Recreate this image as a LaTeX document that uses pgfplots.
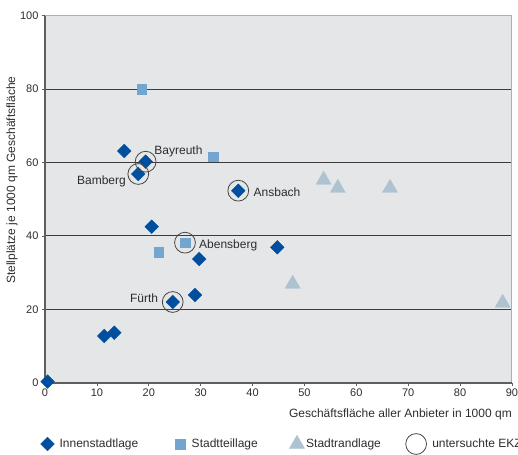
\documentclass[border=0pt]{standalone}
\usepackage{pgfplots}
\pgfplotsset{compat=1.18}
\usepackage{fontspec}
\setmainfont{Liberation Sans}
\definecolor{bgc}{RGB}{229,230,232}
\definecolor{innen}{RGB}{0,79,159}
\definecolor{teil}{RGB}{115,165,209}
\definecolor{rand}{RGB}{174,195,209}
\definecolor{txt}{RGB}{45,45,45}
\definecolor{gridc}{RGB}{60,60,60}
\definecolor{axc}{RGB}{95,95,95}
\definecolor{framec}{RGB}{175,175,175}
\definecolor{circc}{RGB}{70,70,70}
\pgfdeclareplotmark{rdiamond}{%
  \pgfpathmoveto{\pgfqpoint{0pt}{\pgfplotmarksize}}%
  \pgfpathlineto{\pgfqpoint{\pgfplotmarksize}{0pt}}%
  \pgfpathlineto{\pgfqpoint{0pt}{-\pgfplotmarksize}}%
  \pgfpathlineto{\pgfqpoint{-\pgfplotmarksize}{0pt}}%
  \pgfpathclose\pgfusepathqfillstroke}
\pgfplotsset{
  limg/.style 2 args={legend image code/.code={\draw[white,opacity=0,thin] (-#1,-11pt) -- (-#1,11pt) (#2,-11pt) -- (#2,11pt); \draw[##1] plot coordinates {(0pt,0pt)};}},
}
\begin{document}
\begin{tikzpicture}
\useasboundingbox (-45pt,-71.3pt) rectangle (473pt,382.7pt);
\begin{axis}[
  at={(0,0)}, anchor=south west,
  scale only axis, width=467pt, height=367pt,
  xmin=0, xmax=90, ymin=0, ymax=100,
  xtick={0,10,...,90}, ytick={0,20,...,100},
  clip=false,
  axis background/.style={fill=bgc},
  axis line style={draw=none},
  ymajorgrids, grid style={gridc, line width=0.9pt},
  tick align=outside, xtick pos=bottom, ytick pos=left,
  major tick length=3pt,
  tick style={axc, line width=0.6pt},
  ticklabel style={font=\fontsize{11}{12}\selectfont, text=txt},
  /pgf/number format/assume math mode=true,
  xlabel={Geschäftsfläche aller Anbieter in 1000 qm},
  xlabel style={at={(axis description cs:1,0)}, anchor=base east, inner sep=0pt, yshift=-34.3pt, font=\fontsize{12}{14}\selectfont, text=txt},
  ylabel={Stellplätze je 1000 qm Geschäftsfläche},
  ylabel style={at={(axis description cs:-0.0707,0.552)}, anchor=center, inner sep=0pt, font=\fontsize{12}{14}\selectfont, text=txt},
  legend columns=4,
  legend style={at={(axis description cs:-0.0171,-0.167)}, anchor=west, draw=none, fill=none,
    font=\fontsize{12}{14}\selectfont, text=txt, nodes={inner sep=0pt}},
]
\draw[framec, line width=1pt] (rel axis cs:0,1) -- (rel axis cs:1,1) -- (rel axis cs:1,0);
\draw[axc, line width=1.6pt] (rel axis cs:0,1) -- (rel axis cs:0,0) -- (rel axis cs:1,0);

\addplot[only marks, mark=rdiamond, mark size=6.9pt, mark options={fill=innen, draw=innen, line width=0.3pt}, limg={7pt}{12pt}]
  coordinates {(0.5,0.3) (11.43,12.72) (13.36,13.62) (20.56,42.51) (29.74,33.71) (28.91,23.90)
   (24.61,21.99) (15.28,63.13) (19.40,60.22) (17.98,56.87) (37.25,52.32) (44.77,36.89)};
\addlegendentry{Innenstadtlage}
\addplot[only marks, mark=square*, mark size=4.9pt, mark options={fill=teil, draw=teil, line width=0.3pt}, limg={42pt}{11pt}]
  coordinates {(18.64,79.95) (32.43,61.58) (21.91,35.61) (26.98,38.15)};
\addlegendentry{Stadtteillage}
\addplot[only marks, mark=triangle*, mark size=8.8pt, mark options={fill=rand, draw=rand, line width=0.3pt}, limg={39pt}{9pt}]
  coordinates {(53.70,55.26) (56.43,53.05) (66.49,53.05) (47.73,26.92) (88.20,21.74)};
\addlegendentry{Stadtrandlage}
\addplot[only marks, mark=o, mark size=10.4pt, mark options={draw=circc, line width=0.8pt, fill=none}, limg={35pt}{16pt}]
  coordinates {(19.40,60.22) (17.98,56.87) (37.25,52.32) (26.98,38.15) (24.61,21.99)};
\addlegendentry{untersuchte EKZ}

\node[anchor=base west, inner sep=0pt, font=\fontsize{12}{14}\selectfont, text=txt] at (axis cs:21.06,62.3) {Bayreuth};
\node[anchor=base east, inner sep=0pt, font=\fontsize{12}{14}\selectfont, text=txt] at (axis cs:15.61,54.14) {Bamberg};
\node[anchor=base west, inner sep=0pt, font=\fontsize{12}{14}\selectfont, text=txt] at (axis cs:40.18,50.87) {Ansbach};
\node[anchor=base west, inner sep=0pt, font=\fontsize{12}{14}\selectfont, text=txt] at (axis cs:29.68,36.43) {Abensberg};
\node[anchor=base east, inner sep=0pt, font=\fontsize{12}{14}\selectfont, text=txt] at (axis cs:21.83,21.8) {Fürth};
\end{axis}
\end{tikzpicture}
\end{document}
